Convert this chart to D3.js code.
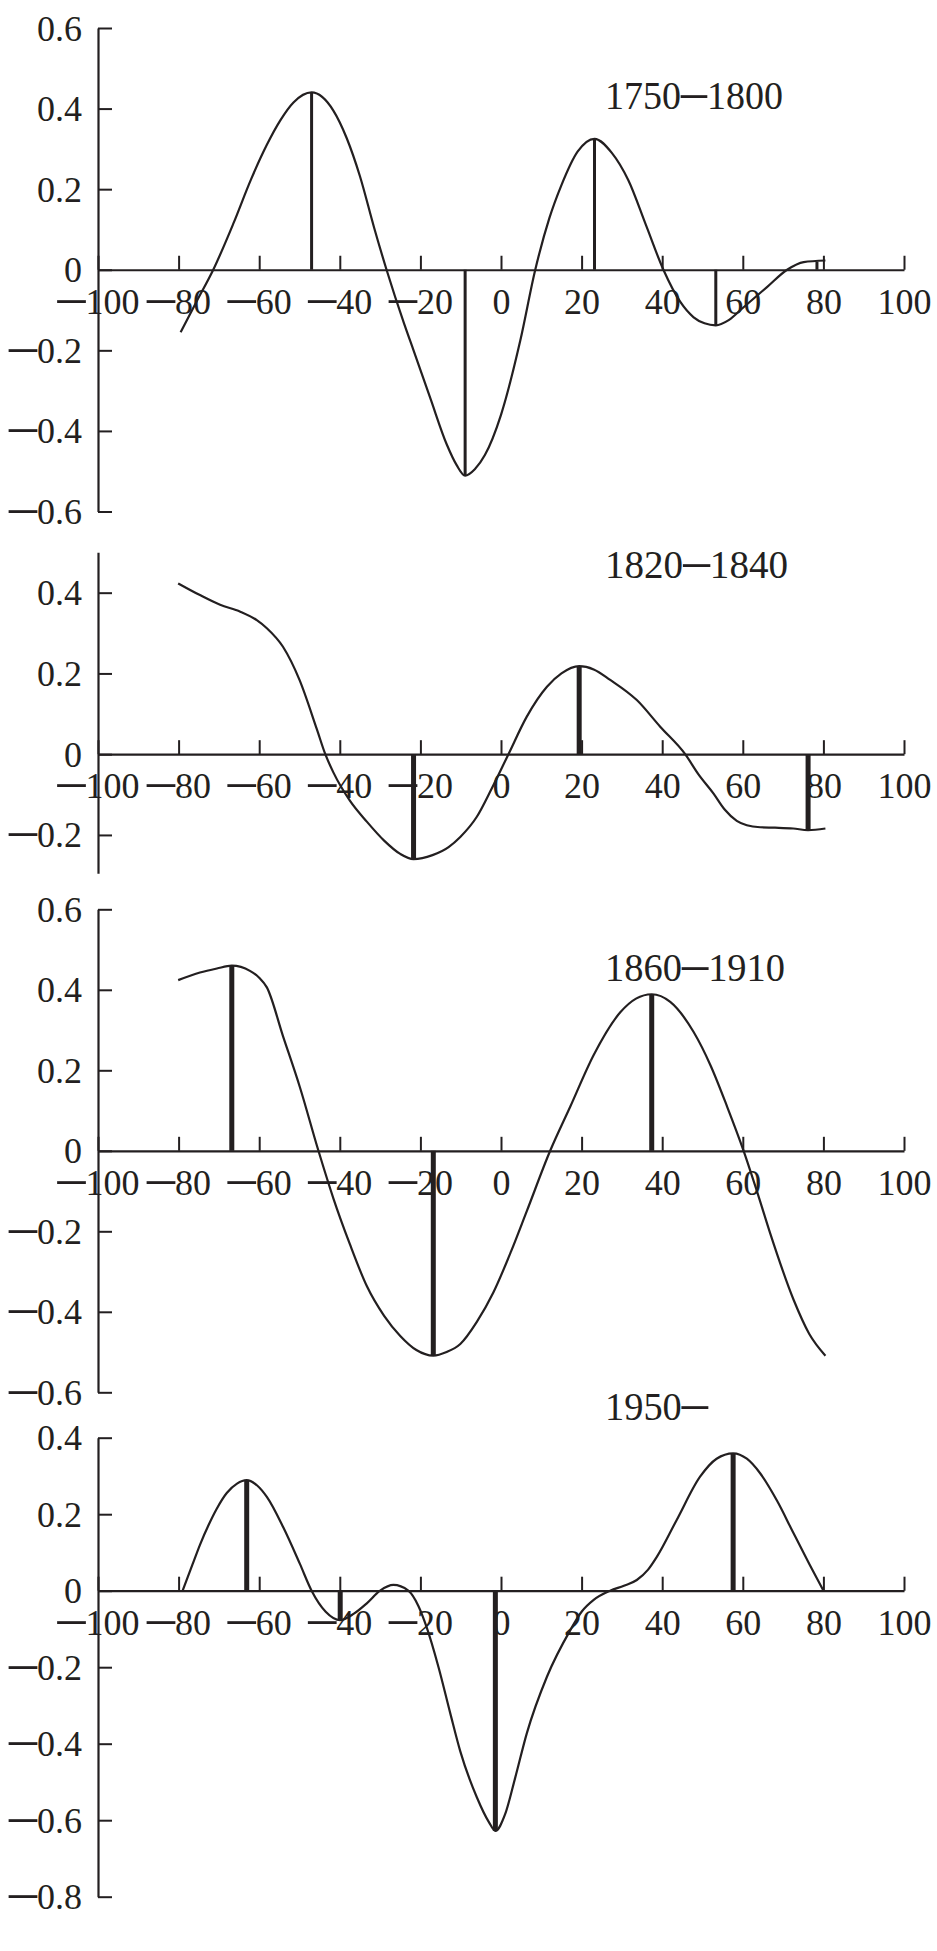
<!DOCTYPE html>
<html><head><meta charset="utf-8">
<script src="https://cdn.jsdelivr.net/npm/d3@7"></script>
<style>body{margin:0;background:#fff} svg text{font-family:'Liberation Serif','Times New Roman','DejaVu Serif',serif}</style>
</head><body>
<script>
// ---------- DATA ----------
const xTickValues = [-100, -80, -60, -40, -20, 0, 20, 40, 60, 80, 100];
const titles = ["1750–1800", "1820–1840", "1860–1910", "1950–"];

const curve1750 = [[-79.5,-0.155],[-75.5,-0.078],[-71.4,0],[-66.4,0.115],[-62,0.225],[-58.1,0.31],[-54.8,0.37],[-51.5,0.415],[-47,0.44],[-41.6,0.395],[-38.3,0.327],[-35,0.232],[-31.5,0.105],[-28.4,0],[-24,-0.135],[-21.7,-0.2],[-17.5,-0.32],[-13.4,-0.435],[-11,-0.485],[-8.9,-0.511],[-6.5,-0.495],[-4,-0.46],[0,-0.36],[4.8,-0.175],[8.5,0],[12,0.128],[15,0.21],[19,0.293],[23.2,0.325],[27.5,0.29],[31.6,0.222],[36,0.11],[40.3,0],[44.5,-0.08],[47.8,-0.118],[50.5,-0.133],[53.3,-0.138],[56.5,-0.125],[60.2,-0.093],[66,-0.043],[71,0],[75.1,0.019],[80.5,0.023]];
const bars1750 = [[-47,0.44],[-8.9,-0.511],[23.2,0.325],[53.3,-0.138],[78.4,0.02]];
const yTicks1750 = [-0.6,-0.4,-0.2,0,0.2,0.4,0.6];
const yDomain1750 = [-0.6, 0.6];

const curve1820 = [[-80.1,0.423],[-74.7,0.394],[-69.7,0.37],[-64.7,0.353],[-60.6,0.332],[-58.1,0.312],[-54.1,0.266],[-50,0.184],[-45.7,0.062],[-43.6,0],[-41.6,-0.045],[-37.5,-0.115],[-33.3,-0.167],[-29,-0.214],[-25,-0.247],[-21.7,-0.26],[-17,-0.25],[-13,-0.23],[-10.1,-0.205],[-6,-0.155],[-2.3,-0.085],[1.85,0],[6.4,0.093],[11.4,0.167],[15,0.2],[19.4,0.218],[23,0.21],[27.1,0.184],[33.7,0.134],[39.5,0.068],[45.7,0],[49,-0.05],[52.7,-0.097],[55.5,-0.137],[58.5,-0.165],[61,-0.176],[64.3,-0.181],[68,-0.182],[72.5,-0.184],[76.2,-0.188],[80.5,-0.184]];
const bars1820 = [[-21.7,-0.26],[19.4,0.218],[76.2,-0.188]];
const yTicks1820 = [-0.2,0,0.2,0.4];
const yDomain1820 = [-0.295, 0.5];

const curve1860 = [[-80.1,0.424],[-74.7,0.443],[-70.5,0.453],[-66.8,0.46],[-62.3,0.447],[-60,0.43],[-58.1,0.406],[-54.1,0.285],[-49.9,0.158],[-45.3,0],[-41.6,-0.118],[-37.5,-0.232],[-33.3,-0.336],[-29,-0.41],[-25,-0.46],[-21,-0.495],[-16.8,-0.509],[-13.5,-0.5],[-10.1,-0.48],[-6,-0.425],[-1.9,-0.352],[2.5,-0.25],[6.4,-0.15],[12.2,0],[17.2,0.11],[23,0.238],[29.6,0.344],[33.5,0.378],[37.4,0.389],[42,0.37],[47.8,0.295],[52,0.212],[56.1,0.11],[60.2,0],[63.5,-0.1],[66.8,-0.205],[72.6,-0.37],[76.5,-0.455],[80.5,-0.509]];
const bars1860 = [[-66.8,0.46],[-16.8,-0.509],[37.4,0.389]];
const yTicks1860 = [-0.6,-0.4,-0.2,0,0.2,0.4,0.6];
const yDomain1860 = [-0.6, 0.6];

const curve1950 = [[-79,0],[-76.5,0.07],[-74.7,0.12],[-72.5,0.173],[-70.6,0.213],[-68,0.256],[-65.5,0.28],[-63.1,0.289],[-60.5,0.275],[-58.1,0.245],[-54,0.165],[-49.9,0.07],[-47,0],[-43.5,-0.055],[-39.9,-0.077],[-36.5,-0.06],[-33.3,-0.033],[-30,0],[-26.7,0.015],[-23,0],[-20.5,-0.04],[-18.5,-0.094],[-15.5,-0.2],[-12.6,-0.32],[-10.1,-0.42],[-6,-0.54],[-3,-0.605],[-1.4,-0.628],[1,-0.585],[3.5,-0.49],[6.4,-0.373],[11.4,-0.225],[17.2,-0.103],[20,-0.055],[23,-0.024],[27.1,0],[30.5,0.013],[33.7,0.028],[36.5,0.055],[38.7,0.089],[43.6,0.185],[49.4,0.298],[53.5,0.345],[57.6,0.359],[61,0.345],[64.3,0.307],[68.5,0.235],[72.6,0.15],[76.5,0.07],[80,0]];
const bars1950 = [[-63.1,0.289],[-39.9,-0.077],[-1.4,-0.628],[57.6,0.359]];
const yTicks1950 = [-0.8,-0.6,-0.4,-0.2,0,0.2,0.4];
const yDomain1950 = [-0.8, 0.4];

// ---------- LAYOUT ----------
const W = 937, H = 1951;
const INK = "#231f20";
const FONT = "'Liberation Serif','Times New Roman','DejaVu Serif',serif";
const xRange = [98, 904];
const panels = [
  {curve: curve1750, bars: bars1750, yTicks: yTicks1750, yDomain: yDomain1750, title: titles[0], yRange: [511.5, 28], barW: 3, titleY: 109, titleW: 178},
  {curve: curve1820, bars: bars1820, yTicks: yTicks1820, yDomain: yDomain1820, title: titles[1], yRange: [873.3, 552.3], barW: 5, titleY: 578, titleW: 183},
  {curve: curve1860, bars: bars1860, yTicks: yTicks1860, yDomain: yDomain1860, title: titles[2], yRange: [1392.3, 909.3], barW: 5, titleY: 981, titleW: 180},
  {curve: curve1950, bars: bars1950, yTicks: yTicks1950, yDomain: yDomain1950, title: titles[3], yRange: [1896.7, 1437.7], barW: 5, titleY: 1420, titleW: 103}
];

const svg = d3.select("body").append("svg")
  .attr("width", W).attr("height", H)
  .style("background", "#fff");

const x = d3.scaleLinear().domain([-100, 100]).range(xRange);

const DASH = "\u2013";
function fmtY(v) {
  if (v === 0) return "0";
  return (v < 0 ? DASH : "") + Math.abs(v).toFixed(1);
}
function fmtX(v) {
  return (v < 0 ? DASH : "") + Math.abs(v);
}
// rebuild a label into tspans so the minus sign is drawn long, like the original
function styleLabel(sel, baseSize, dashSize, shift) {
  sel.each(function() {
    const t = d3.select(this);
    const s = t.text();
    t.text(null);
    if (s.startsWith(DASH)) {
      t.append("tspan").attr("font-size", dashSize).attr("dy", shift).text(DASH);
      t.append("tspan").attr("font-size", baseSize).attr("dy", -shift).text(s.slice(1));
    } else {
      t.append("tspan").attr("font-size", baseSize).text(s);
    }
  });
}

panels.forEach(p => {
  const y = d3.scaleLinear().domain(p.yDomain).range(p.yRange);
  const g = svg.append("g");

  // y axis
  const ya = g.append("g").attr("transform", `translate(${x(-100)},0)`)
    .call(d3.axisLeft(y).tickValues(p.yTicks).tickFormat(fmtY)
      .tickSizeInner(-14).tickSizeOuter(0).tickPadding(16));
  ya.attr("font-family", FONT).attr("font-size", 36);
  ya.selectAll("path.domain").attr("stroke", INK).attr("stroke-width", 2.2);
  ya.selectAll(".tick line").attr("stroke", INK).attr("stroke-width", 2);
  ya.selectAll(".tick text").attr("fill", INK)
    .attr("dy", null).attr("y", 12)
    .call(styleLabel, 36, 56, 1);

  // x axis
  const xa = g.append("g").attr("transform", `translate(0,${y(0)})`)
    .call(d3.axisBottom(x).tickValues(xTickValues).tickFormat(fmtX)
      .tickSizeInner(-14).tickSizeOuter(0).tickPadding(0));
  xa.attr("font-family", FONT).attr("font-size", 36);
  xa.selectAll("path.domain").attr("stroke", INK).attr("stroke-width", 2.2);
  xa.selectAll(".tick line").attr("stroke", INK).attr("stroke-width", 2);
  xa.selectAll(".tick text").attr("fill", INK)
    .attr("dy", null).attr("y", 44)
    .call(styleLabel, 36, 56, 1);

  // bars
  g.append("g").selectAll("rect").data(p.bars).join("rect")
    .attr("x", d => x(d[0]) - p.barW / 2)
    .attr("y", d => Math.min(y(0), y(d[1])))
    .attr("width", p.barW)
    .attr("height", d => Math.abs(y(d[1]) - y(0)))
    .attr("fill", INK);

  // curve
  const line = d3.line().x(d => x(d[0])).y(d => y(d[1]))
    .curve(d3.curveMonotoneX);
  g.append("path").datum(p.curve)
    .attr("d", line)
    .attr("fill", "none")
    .attr("stroke", INK)
    .attr("stroke-width", 2.2)
    .attr("stroke-linejoin", "round");

  // title
  const parts = p.title.split("–");
  const tt = g.append("text")
    .attr("x", 605).attr("y", p.titleY)
    .attr("font-family", FONT).attr("font-size", 41).attr("fill", INK)
    .attr("textLength", p.titleW).attr("lengthAdjust", "spacingAndGlyphs");
  tt.append("tspan").text(parts[0]);
  tt.append("tspan").attr("font-size", 56).attr("dy", 1).text("–");
  if (parts[1]) tt.append("tspan").attr("dy", -1).text(parts[1]);
});
</script>
</body></html>
